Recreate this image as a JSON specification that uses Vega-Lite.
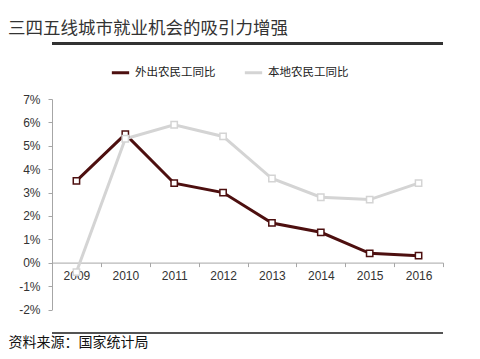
{
  "$schema": "https://vega.github.io/schema/vega-lite/v6.json",
  "width": 391,
  "height": 210.5,
  "autosize": "none",
  "padding": {"left": 52, "top": 99, "right": 37, "bottom": 49.5},
  "background": "white",
  "title": {
    "text": "三四五线城市就业机会的吸引力增强",
    "anchor": "start",
    "frame": "group",
    "dx": -44,
    "offset": 5,
    "font": "Noto Sans CJK SC",
    "fontSize": 17.5,
    "fontWeight": "normal",
    "color": "#333333"
  },
  "config": {
    "view": {"stroke": null},
    "axis": {"grid": false, "labelFont": "Liberation Sans", "labelFontSize": 12, "labelColor": "#333333", "domainColor": "#a6a6a6", "tickColor": "#a6a6a6"}
  },
  "data": {
    "values": [
      {"year": "2009", "series": "外出农民工同比", "value": 3.5},
      {"year": "2010", "series": "外出农民工同比", "value": 5.5},
      {"year": "2011", "series": "外出农民工同比", "value": 3.4},
      {"year": "2012", "series": "外出农民工同比", "value": 3.0},
      {"year": "2013", "series": "外出农民工同比", "value": 1.7},
      {"year": "2014", "series": "外出农民工同比", "value": 1.3},
      {"year": "2015", "series": "外出农民工同比", "value": 0.4},
      {"year": "2016", "series": "外出农民工同比", "value": 0.3},
      {"year": "2009", "series": "本地农民工同比", "value": -0.4},
      {"year": "2010", "series": "本地农民工同比", "value": 5.3},
      {"year": "2011", "series": "本地农民工同比", "value": 5.9},
      {"year": "2012", "series": "本地农民工同比", "value": 5.4},
      {"year": "2013", "series": "本地农民工同比", "value": 3.6},
      {"year": "2014", "series": "本地农民工同比", "value": 2.8},
      {"year": "2015", "series": "本地农民工同比", "value": 2.7},
      {"year": "2016", "series": "本地农民工同比", "value": 3.4}
    ]
  },
  "layer": [
    {"mark": {"type": "rule", "strokeWidth": 1.5, "color": "#333333"}, "encoding": {"y": {"datum": 9.37, "type": "quantitative", "scale": {"domain": [-2, 7], "nice": false}, "axis": {"title": null, "values": [-2, -1, 0, 1, 2, 3, 4, 5, 6, 7], "labelExpr": "datum.value + '%'", "tickSize": 4, "labelPadding": 8}}}},
    {"mark": {"type": "rule", "strokeWidth": 1.2, "color": "#555555"}, "encoding": {"y": {"datum": -3.0, "type": "quantitative", "axis": {"title": null, "values": [-2, -1, 0, 1, 2, 3, 4, 5, 6, 7], "labelExpr": "datum.value + '%'", "tickSize": 4, "labelPadding": 8}}}},
    {
      "encoding": {
        "x": {
          "field": "year", "type": "ordinal", "sort": null,
          "scale": {"paddingInner": 0, "paddingOuter": 0},
          "axis": {
            "title": "资料来源：国家统计局",
            "titleFont": "Noto Sans CJK SC", "titleFontSize": 14, "titleFontWeight": "normal", "titleColor": "#111111",
            "titleX": -44, "titleY": 80, "titleAlign": "left", "titleBaseline": "middle", "titleAnchor": "start",
            "offset": -46.9, "labelAngle": 0, "tickBand": "extent", "tickSize": 4, "labelPadding": 4
          }
        },
        "y": {
          "field": "value", "type": "quantitative",
          "scale": {"domain": [-2, 7], "nice": false},
          "axis": {"title": null, "values": [-2, -1, 0, 1, 2, 3, 4, 5, 6, 7], "labelExpr": "datum.value + '%'", "tickSize": 4, "labelPadding": 8}
        },
        "color": {
          "field": "series", "type": "nominal", "sort": ["外出农民工同比", "本地农民工同比"],
          "scale": {"domain": ["外出农民工同比", "本地农民工同比"], "range": ["#4d0f0f", "#d4d4d4"]},
          "legend": {
            "title": null, "orient": "none", "direction": "horizontal", "legendX": 58, "legendY": -37,
            "labelFont": "Noto Sans CJK SC", "labelFontSize": 11.5, "labelColor": "#222222",
            "symbolType": "stroke", "symbolStrokeWidth": 3, "symbolSize": 300, "columnPadding": 22, "labelOffset": 4
          }
        }
      },
      "layer": [
        {"mark": {"type": "line", "strokeWidth": 3}},
        {"mark": {"type": "point", "shape": "square", "filled": false, "fill": "white", "fillOpacity": 1, "size": 40, "strokeWidth": 1.5, "opacity": 1}}
      ]
    }
  ]
}
